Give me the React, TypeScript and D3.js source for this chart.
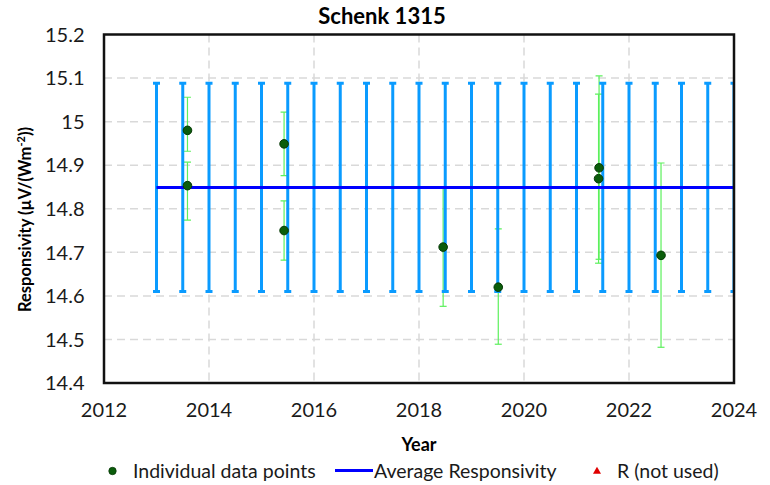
import React from "react";
import * as d3 from "d3";

const width = 770;
const height = 485;
const margin = { top: 34.5, right: 36, bottom: 102, left: 104 };

// measured points (year, responsivity, lower / upper uncertainty bound)
const pointYears = [2013.59, 2013.59, 2015.43, 2015.43, 2018.46, 2019.51, 2021.43, 2021.42, 2022.61];
const pointValues = [14.98, 14.853, 14.949, 14.75, 14.712, 14.62, 14.894, 14.869, 14.693];
const pointLow = [14.932, 14.774, 14.876, 14.682, 14.576, 14.489, 14.684, 14.675, 14.482];
const pointHigh = [15.056, 14.907, 15.022, 14.818, 14.848, 14.754, 15.105, 15.063, 14.905];

// average responsivity, drawn with its expanded uncertainty every half year
const avgYears = [
  2013, 2013.5, 2014, 2014.5, 2015, 2015.5, 2016, 2016.5, 2017, 2017.5, 2018, 2018.5,
  2019, 2019.5, 2020, 2020.5, 2021, 2021.5, 2022, 2022.5, 2023, 2023.5, 2024,
];
const avgValue = 14.849;
const avgLow = 14.61;
const avgHigh = 15.088;

const xTicks = [2012, 2014, 2016, 2018, 2020, 2022, 2024];
const yTicks = [14.4, 14.5, 14.6, 14.7, 14.8, 14.9, 15, 15.1, 15.2];

const legendItems = ["Individual data points", "Average Responsivity", "R (not used)"];

const font = "Lato, 'Open Sans', sans-serif";

export default function App() {
  const x = d3.scaleLinear().domain([2012, 2024]).range([margin.left, width - margin.right]);
  const y = d3.scaleLinear().domain([14.4, 15.2]).range([height - margin.bottom, margin.top]);
  const [x0, x1] = x.range();
  const [y1, y0] = y.range();
  const cap = 3.5;

  const avgLine = d3
    .line<number>()
    .x((d) => x(d))
    .y(() => y(avgValue));

  return (
    <svg
      width={width}
      height={height}
      style={{ position: "absolute", left: 0, top: 0, background: "#fff", fontFamily: font }}
    >
      <defs>
        <clipPath id="plot">
          <rect x={x0} y={y0} width={x1 - x0 - 1} height={y1 - y0} />
        </clipPath>
      </defs>

      <text x={382} y={24} textAnchor="middle" fontSize={22} fontWeight="bold" fill="#000">
        Schenk 1315
      </text>

      {/* grid */}
      {yTicks.slice(1, -1).map((t) => (
        <line key={"gy" + t} x1={x0} x2={x1} y1={y(t)} y2={y(t)} stroke="#d9d9d9" strokeWidth={1.5} strokeDasharray="8,5" />
      ))}
      {xTicks.slice(1, -1).map((t) => (
        <line key={"gx" + t} x1={x(t)} x2={x(t)} y1={y0} y2={y1} stroke="#d9d9d9" strokeWidth={1.5} strokeDasharray="8,5" />
      ))}

      <g clipPath="url(#plot)">
        {/* individual uncertainty bars */}
        {pointYears.map((yr, i) => (
          <g key={"pe" + i} stroke="#5cf05c" strokeWidth={1.2}>
            <line x1={x(yr)} x2={x(yr)} y1={y(pointLow[i])} y2={y(pointHigh[i])} />
            <line x1={x(yr) - cap} x2={x(yr) + cap} y1={y(pointLow[i])} y2={y(pointLow[i])} />
            <line x1={x(yr) - cap} x2={x(yr) + cap} y1={y(pointHigh[i])} y2={y(pointHigh[i])} />
          </g>
        ))}

        {/* average uncertainty bars */}
        {avgYears.map((yr) => (
          <g key={"ae" + yr} stroke="#0a9bff" strokeWidth={3}>
            <line x1={x(yr)} x2={x(yr)} y1={y(avgLow)} y2={y(avgHigh)} />
            <line x1={x(yr) - cap} x2={x(yr) + cap} y1={y(avgLow)} y2={y(avgLow)} />
            <line x1={x(yr) - cap} x2={x(yr) + cap} y1={y(avgHigh)} y2={y(avgHigh)} />
          </g>
        ))}

        <path d={avgLine([avgYears[0], avgYears[avgYears.length - 1]]) || ""} fill="none" stroke="#0000ff" strokeWidth={3} />

        {pointYears.map((yr, i) => (
          <circle key={"p" + i} cx={x(yr)} cy={y(pointValues[i])} r={4.3} fill="#0b5d0b" stroke="#063806" strokeWidth={1} />
        ))}
      </g>

      {/* frame */}
      <rect x={x0} y={y0} width={x1 - x0} height={y1 - y0} fill="none" stroke="#111" strokeWidth={2.5} />

      {/* axes labels */}
      {yTicks.map((t) => (
        <text key={"yt" + t} x={84.5} y={y(t)} dy="0.36em" textAnchor="end" fontSize={20} fill="#1a1a1a">
          {d3.format("~g")(t)}
        </text>
      ))}
      {xTicks.map((t) => (
        <text key={"xt" + t} x={x(t)} y={416.5} textAnchor="middle" fontSize={20} fill="#1a1a1a">
          {t}
        </text>
      ))}

      <text x={419} y={451} textAnchor="middle" fontSize={18} fontWeight="bold" fill="#000">
        Year
      </text>
      <text transform="translate(31,312) rotate(-90)" fontSize={16.5} fontWeight="bold" fill="#000">
        Responsivity (µV/(Wm<tspan dy={-6} fontSize={11}>-2</tspan>
        <tspan dy={6}>))</tspan>
      </text>

      {/* legend */}
      <g fontSize={19.5} fill="#1a1a1a">
        <circle cx={112.5} cy={471} r={3.7} fill="#0b5d0b" stroke="#063806" strokeWidth={0.8} />
        <text x={133} y={478}>{legendItems[0]}</text>
        <line x1={335} x2={373} y1={470.5} y2={470.5} stroke="#0000ff" strokeWidth={3} />
        <text x={374} y={478}>{legendItems[1]}</text>
        <path d={d3.symbol(d3.symbolTriangle, 28)() || ""} transform="translate(597,471.5)" fill="#e00000" />
        <text x={617} y={478}>{legendItems[2]}</text>
      </g>
    </svg>
  );
}
